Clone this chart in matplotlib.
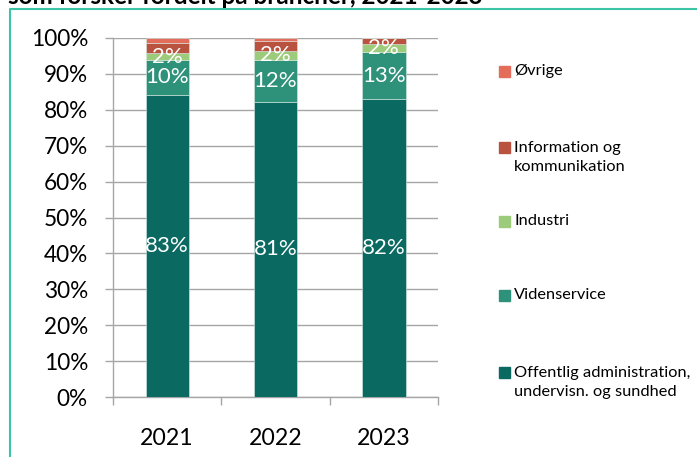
import numpy as np
import matplotlib
matplotlib.use("Agg")
import matplotlib.pyplot as plt
from matplotlib.patches import Rectangle
from matplotlib.lines import Line2D

plt.rcParams['font.family'] = ['Lato', 'DejaVu Sans']

# data (share in %)
years = ['2021', '2022', '2023']
series = ['Offentlig administration,\nundervisn. og sundhed', 'Videnservice', 'Industri',
          'Information og\nkommunikation', 'Øvrige']
offentlig = [84.2, 82.2, 82.9]
videnservice = [9.6, 11.6, 13.3]
industri = [1.9, 2.7, 2.2]
information = [3.0, 2.8, 1.5]
oevrige = [1.3, 0.7, 0.1]
values = [offentlig, videnservice, industri, information, oevrige]

offentlig_lbl = ['83%', '81%', '82%']
videnservice_lbl = ['10%', '12%', '13%']
industri_lbl = ['2%', '2%', '2%']
labels = [offentlig_lbl, videnservice_lbl, industri_lbl, None, None]

colors = ['#0a6a62', '#2e9179', '#9ccb7c', '#b9533f', '#e46c5a']
title = 'som forsker fordelt på brancher, 2021-2023'

W, H = 697, 457
fig = plt.figure(figsize=(W / 100, H / 100), dpi=100)
ax = fig.add_axes([113 / W, 1 - 397 / H, (438 - 113) / W, (397 - 38) / H])

x = np.arange(len(years))
bottom = np.zeros(len(years))
for vals, lbl, col in zip(values, labels, colors):
    bars = ax.bar(x, vals, 0.4, bottom=bottom, color=col, edgecolor='#d8e8e4',
                  linewidth=0.4, zorder=3)
    if lbl is not None:
        ax.bar_label(bars, labels=lbl, label_type='center', color='white', fontsize=16,
                     zorder=6)
    bottom += np.array(vals)

ax.set_xlim(-0.5, 2.5)
ax.set_ylim(0, 100)
ax.set_yticks(np.arange(0, 101, 10))
ax.set_yticklabels([f'{v}%' for v in range(0, 101, 10)], fontsize=16.3)
ax.set_xticks(x)
ax.set_xticklabels(years, fontsize=16.7)
ax.set_xticks(np.arange(-0.5, 3, 1), minor=True)
ax.tick_params(axis='x', which='major', length=0, pad=22)
ax.tick_params(axis='x', which='minor', length=6, color='#a6a6a6', width=1)
ax.tick_params(axis='y', length=6, color='#a6a6a6', width=1, pad=12)
ax.grid(axis='y', color='#a6a6a6', linewidth=1, zorder=0)
for s in ['top', 'right']:
    ax.spines[s].set_visible(False)
for s in ['left', 'bottom']:
    ax.spines[s].set_color('#a6a6a6')
    ax.spines[s].set_linewidth(1)

# legend, drawn by hand (top entry = last series)
leg_y = [71, 147, 221, 295, 372]
for name, col, yy in zip(series[::-1], colors[::-1], leg_y):
    fig.patches.append(Rectangle((499 / W, 1 - (yy + 5.5) / H), 11 / W, 11 / H,
                                 transform=fig.transFigure, color=col))
    nl = name.count('\n')
    fig.text(514 / W, 1 - (yy + nl * 10.5) / H, name, fontsize=11.8, va='center',
             ha='left', linespacing=1.45)

# frame and cut-off title
fig.lines.append(Line2D([10 / W, 10 / W, 1], [0, 1 - 9 / H, 1 - 9 / H],
                        transform=fig.transFigure, color='#3cc4a4', linewidth=1.5))
fig.text(8 / W, 1 - 3.5 / H, title, fontsize=17.5, fontweight='bold', va='baseline')

fig.savefig('out.png', dpi=100)
